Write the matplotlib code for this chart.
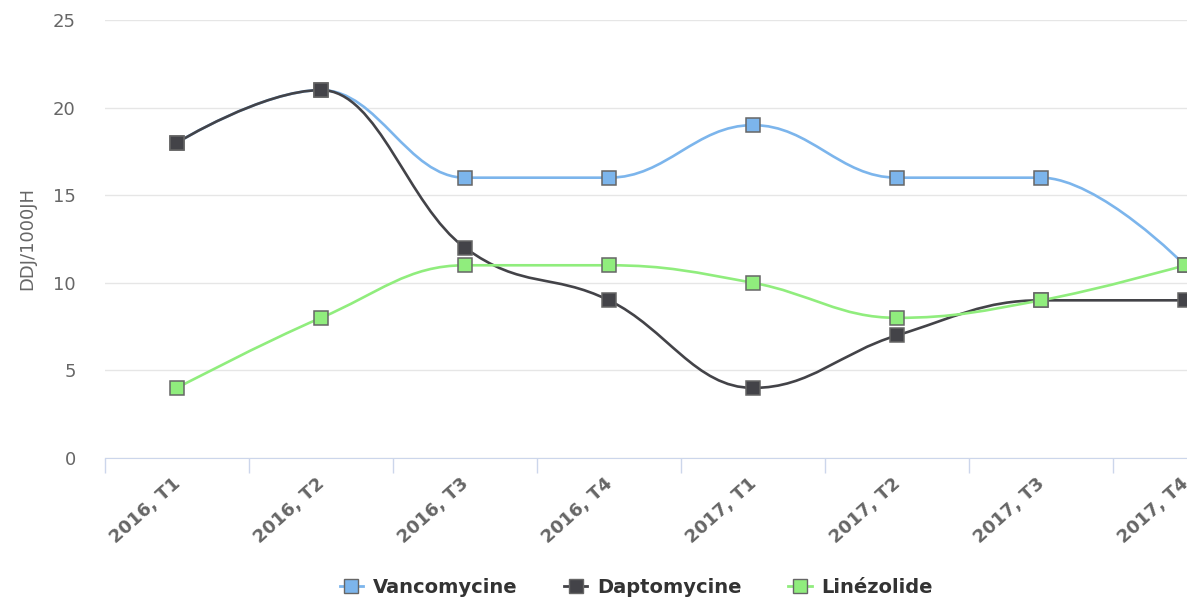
import matplotlib.pyplot as plt
import matplotlib.transforms as mtransforms
from matplotlib.path import Path
from matplotlib.patches import PathPatch
from matplotlib.lines import Line2D

# données
categories = ["2016, T1", "2016, T2", "2016, T3", "2016, T4",
              "2017, T1", "2017, T2", "2017, T3", "2017, T4"]
vancomycine = [18, 21, 16, 16, 19, 16, 16, 11]
daptomycine = [18, 21, 12, 9, 4, 7, 9, 9]
linezolide = [4, 8, 11, 11, 10, 8, 9, 11]

series = [
    ("Vancomycine", vancomycine, "#7cb5ec"),
    ("Daptomycine", daptomycine, "#434348"),
    ("Linézolide", linezolide, "#90ed7d"),
]


def spline_path(xs, ys, smoothing=1.5):
    """Courbe lissée façon Highcharts (bezier cubique)."""
    denom = smoothing + 1
    n = len(xs)
    right = [None] * n
    left = [None] * n
    for i in range(1, n - 1):
        px, py = xs[i], ys[i]
        lx, ly = xs[i - 1], ys[i - 1]
        nx, ny = xs[i + 1], ys[i + 1]
        lcx = (smoothing * px + lx) / denom
        lcy = (smoothing * py + ly) / denom
        rcx = (smoothing * px + nx) / denom
        rcy = (smoothing * py + ny) / denom
        if rcx != lcx:
            corr = (rcy - lcy) * (rcx - px) / (rcx - lcx) + py - rcy
            lcy += corr
            rcy += corr
            if lcy > ly and lcy > py:
                lcy = max(ly, py)
                rcy = 2 * py - lcy
            elif lcy < ly and lcy < py:
                lcy = min(ly, py)
                rcy = 2 * py - lcy
            if rcy > ny and rcy > py:
                rcy = max(ny, py)
                lcy = 2 * py - rcy
            elif rcy < ny and rcy < py:
                rcy = min(ny, py)
                lcy = 2 * py - rcy
        left[i] = (lcx, lcy)
        right[i] = (rcx, rcy)
    verts = [(xs[0], ys[0])]
    codes = [Path.MOVETO]
    for i in range(1, n):
        c1 = right[i - 1] if right[i - 1] else (xs[i - 1], ys[i - 1])
        c2 = left[i] if left[i] else (xs[i], ys[i])
        verts += [c1, c2, (xs[i], ys[i])]
        codes += [Path.CURVE4] * 3
    return Path(verts, codes)


W, H = 1187, 598
fig = plt.figure(figsize=(W / 100, H / 100), dpi=100)
ax = fig.add_axes([105 / W, (H - 458) / H, 1152 / W, 438 / H])

x = list(range(len(categories)))
for name, vals, color in series:
    ax.add_patch(PathPatch(spline_path(x, vals), facecolor="none",
                           edgecolor=color, lw=1.9, zorder=3, clip_on=False))
    ax.plot(x, vals, ls="none", marker="s", ms=10.5, mfc=color,
            mec="#666666", mew=1.1, zorder=4, clip_on=False)

ax.set_xlim(-0.5, len(categories) - 0.5)
ax.set_ylim(0, 25)
ax.set_yticks([0, 5, 10, 15, 20, 25])
ax.grid(axis="y", color="#e6e6e6", lw=1)
ax.set_axisbelow(True)

for s in ["top", "right", "left"]:
    ax.spines[s].set_visible(False)
ax.spines["bottom"].set_color("#ccd6eb")

ax.set_xticks([i - 0.5 for i in range(len(categories) + 1)])
ax.set_xticklabels([])
ax.tick_params(axis="x", which="major", length=11, color="#ccd6eb", width=1)
ax.set_xticks(x, minor=True)
ax.set_xticklabels(categories, minor=True, rotation=42, ha="right",
                   va="top", rotation_mode="anchor", fontweight="bold",
                   fontsize=13, color="#666666")
ax.tick_params(axis="x", which="minor", length=0, pad=12)
shift = mtransforms.ScaledTranslation(-5 / 100, 0, fig.dpi_scale_trans)
for lab in ax.get_xticklabels(minor=True):
    lab.set_transform(lab.get_transform() + shift)
ax.tick_params(axis="y", length=0, pad=21, labelsize=13, labelcolor="#666666")
ax.set_ylabel("DDJ/1000JH", fontsize=13, color="#666666", labelpad=12)

handles = [Line2D([], [], color=c, lw=2, marker="s", ms=10, mfc=c,
                  mec="#666666", mew=1) for _, _, c in series]
fig.legend(handles, [s[0] for s in series], loc="center",
           bbox_to_anchor=(0.536, 0.018), ncol=3, frameon=False,
           handlelength=1.2, columnspacing=2.4, handletextpad=0.5,
           prop={"weight": "bold", "size": 14}, labelcolor="#333333")

fig.savefig("out.png", dpi=100)
